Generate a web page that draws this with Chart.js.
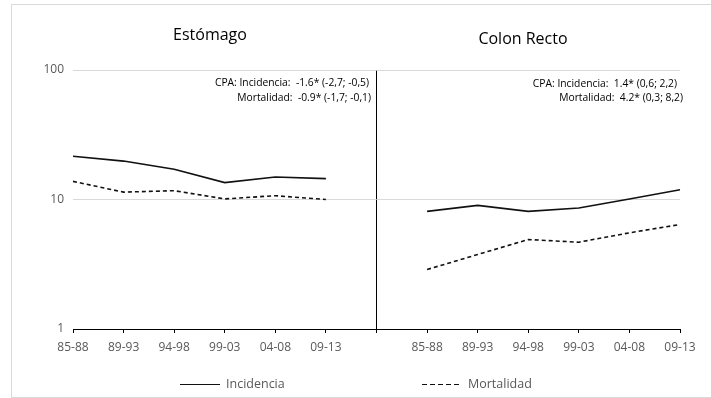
<!DOCTYPE html>
<html>
<head>
<meta charset="utf-8">
<script src="https://cdn.jsdelivr.net/npm/chart.js@4/dist/chart.umd.min.js"></script>
<style>
  html, body { margin: 0; padding: 0; background: #fff; }
  #wrap { position: relative; width: 711px; height: 398px; overflow: hidden; background: #fff; }
  #chart { position: absolute; left: 0; top: 0; }
  .frame { position: absolute; left: 11px; top: 4px; width: 720px; height: 392px; border: 1px solid #d9d9d9; }
  .title { position: absolute; font-family: 'Open Sans', sans-serif; font-size: 16px; color: #000; white-space: nowrap; transform: translateX(-50%); }
  .cpa { position: absolute; font-family: 'Open Sans', sans-serif; font-size: 10.3px; color: #000; white-space: pre; text-align: right; }
  .legend-item { position: absolute; top: 375px; font-family: 'Open Sans', sans-serif; font-size: 12.5px; color: #595959; white-space: nowrap; }
  .legend-item .mark { display: inline-block; width: 40px; height: 1.5px; vertical-align: middle; margin-right: 6px; }
</style>
</head>
<body>
<div id="wrap">
  <div class="frame"></div>
  <canvas id="chart" width="711" height="398"></canvas>
  <div class="title" style="left:210px; top:23px;">Estómago</div>
  <div class="title" style="left:523px; top:27px;">Colon Recto</div>
  <div class="cpa" style="right:342px; top:75px;">CPA: Incidencia:  -1.6* (-2,7; -0,5)</div>
  <div class="cpa" style="right:340px; top:90px;">Mortalidad:  -0.9* (-1,7; -0,1)</div>
  <div class="cpa" style="right:34px; top:76px;">CPA: Incidencia:  1.4* (0,6; 2,2)</div>
  <div class="cpa" style="right:28px; top:90px;">Mortalidad:  4.2* (0,3; 8,2)</div>
  <div id="legend"></div>
</div>
<script>
  // Periodos (mismos para ambos paneles)
  const periodos = ['85-88', '89-93', '94-98', '99-03', '04-08', '09-13'];

  // Estómago
  const estomagoIncidencia = [21.6, 19.8, 17.1, 13.5, 14.9, 14.5];
  const estomagoMortalidad = [13.8, 11.4, 11.7, 10.1, 10.7, 10.0];

  // Colon Recto
  const colonIncidencia = [8.1, 9.0, 8.1, 8.6, 10.1, 11.9];
  const colonMortalidad = [2.88, 3.76, 4.91, 4.68, 5.53, 6.41];

  // Eje Y logaritmico
  const yTicks = [1, 10, 100];

  const series = [
    { label: 'Incidencia', dash: [] },
    { label: 'Mortalidad', dash: [4, 3] }
  ];

  // one category axis for both panels, blank slot in the middle as divider
  const labels = periodos.concat([''], periodos);
  const dividerIndex = periodos.length;
  const pad = n => Array(n).fill(null);

  const left = arr => arr.concat(pad(periodos.length + 1));
  const right = arr => pad(periodos.length + 1).concat(arr);

  function lineDataset(label, data, dash) {
    return {
      label: label,
      data: data,
      borderColor: '#111',
      borderWidth: 1.6,
      borderDash: dash,
      pointRadius: 0,
      tension: 0,
      fill: false,
      spanGaps: false
    };
  }

  const ctx = document.getElementById('chart').getContext('2d');
  new Chart(ctx, {
    type: 'line',
    data: {
      labels: labels,
      datasets: [
        lineDataset(series[0].label, left(estomagoIncidencia), series[0].dash),
        lineDataset(series[1].label, left(estomagoMortalidad), series[1].dash),
        lineDataset(series[0].label, right(colonIncidencia), series[0].dash),
        lineDataset(series[1].label, right(colonMortalidad), series[1].dash)
      ]
    },
    options: {
      responsive: false,
      animation: false,
      layout: { padding: { left: 0, right: 31, top: 70, bottom: 0 } },
      plugins: {
        legend: { display: false },
        tooltip: { enabled: false }
      },
      scales: {
        x: {
          type: 'category',
          offset: false,
          afterFit: function(scale) { scale.height = 69; },
          grid: {
            color: function(c) { return c.index === dividerIndex ? '#000' : 'rgba(0,0,0,0)'; },
            lineWidth: 1,
            tickColor: '#000',
            tickLength: 4,
            drawOnChartArea: true
          },
          border: { display: true, color: '#000', width: 1 },
          ticks: {
            color: '#595959',
            font: { family: 'Open Sans', size: 12 },
            padding: 7,
            maxRotation: 0,
            autoSkip: false
          }
        },
        y: {
          type: 'logarithmic',
          min: 1,
          max: 100,
          afterBuildTicks: function(scale) {
            scale.ticks = yTicks.map(v => ({ value: v }));
          },
          afterFit: function(scale) { scale.width = 73; },
          grid: {
            color: function(c) { return c.tick && c.tick.value === 1 ? 'rgba(0,0,0,0)' : '#d9d9d9'; },
            drawTicks: false
          },
          border: { display: false },
          ticks: {
            color: '#595959',
            font: { family: 'Open Sans', size: 12 },
            padding: 9,
            callback: function(v) { return String(v); }
          }
        }
      }
    }
  });

  // legend built from the series list
  const legendPos = [180, 422];
  const legendEl = document.getElementById('legend');
  series.forEach(function(s, i) {
    const item = document.createElement('div');
    item.className = 'legend-item';
    item.style.left = legendPos[i] + 'px';
    const mark = document.createElement('span');
    mark.className = 'mark';
    if (s.dash.length) {
      const period = s.dash[0] + s.dash[1] + 1;
      mark.style.background = 'repeating-linear-gradient(to right, #111 0 ' + (s.dash[0] + 1) + 'px, transparent ' + (s.dash[0] + 1) + 'px ' + period + 'px)';
    } else {
      mark.style.background = '#111';
    }
    item.appendChild(mark);
    item.appendChild(document.createTextNode(s.label));
    legendEl.appendChild(item);
  });
</script>
</body>
</html>
